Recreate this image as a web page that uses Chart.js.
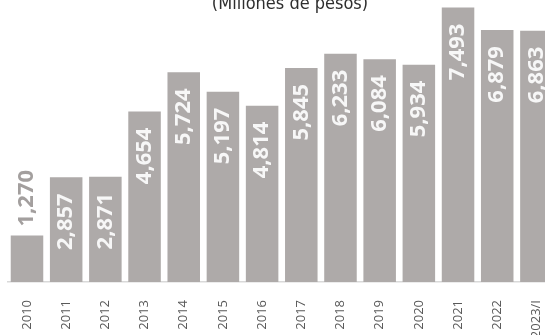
<!DOCTYPE html>
<html>
<head>
<meta charset="utf-8">
<script src="https://cdn.jsdelivr.net/npm/chart.js@4"></script>
<style>
  html, body { margin: 0; padding: 0; background: #fff; overflow: hidden; }
  #wrap { width: 545px; height: 335px; overflow: hidden; position: relative; }
  canvas { display: block; position: absolute; left: 0; top: 0; }
</style>
</head>
<body>
<!-- canvas is a bit wider than the page so the last column runs off the edge -->
<div id="wrap"><canvas id="myChart" width="556" height="335"></canvas></div>
<script>
// Annual amounts, millions of pesos
const years = ['2010', '2011', '2012', '2013', '2014', '2015', '2016',
               '2017', '2018', '2019', '2020', '2021', '2022', '2023/I'];
const amounts = [1270, 2857, 2871, 4654, 5724, 5197, 4814,
                 5845, 6233, 6084, 5934, 7493, 6879, 6863];
const subtitle = '(Millones de pesos)';

const barColor = '#aeaaa9';

// Subtitle, sits at the very top of the canvas
const subtitlePlugin = {
    id: 'subtitleText',
    afterDraw(chart) {
        const ctx = chart.ctx;
        ctx.save();
        ctx.font = '18px "DejaVu Sans Condensed", "DejaVu Sans"';
        ctx.fillStyle = '#2e2e2e';
        ctx.textAlign = 'center';
        ctx.textBaseline = 'alphabetic';
        ctx.fillText(subtitle, 290, 9);
        ctx.restore();
    }
};

// Vertical value labels: inside the bar top, or above it when the bar is too short
const valueLabels = {
    id: 'valueLabels',
    afterDatasetsDraw(chart) {
        const ctx = chart.ctx;
        const meta = chart.getDatasetMeta(0);
        ctx.save();
        ctx.font = 'bold 22px "Open Sans"';
        ctx.textBaseline = 'middle';
        meta.data.forEach(function (bar, i) {
            const text = amounts[i].toLocaleString('en-US');
            const w = ctx.measureText(text).width;
            const h = bar.base - bar.y;
            ctx.save();
            ctx.translate(bar.x, bar.y);
            ctx.rotate(-Math.PI / 2);
            if (h > w + 24) {
                ctx.fillStyle = '#f7f7f7';
                ctx.textAlign = 'right';
                ctx.fillText(text, -16, 0);
            } else {
                ctx.fillStyle = '#a39f9e';
                ctx.textAlign = 'left';
                ctx.fillText(text, 9, 0);
            }
            ctx.restore();
        });
        ctx.restore();
    }
};

const ctx = document.getElementById('myChart').getContext('2d');
new Chart(ctx, {
    type: 'bar',
    data: {
        labels: years,
        datasets: [{
            data: amounts,
            backgroundColor: barColor,
            borderWidth: 0,
            categoryPercentage: 1,
            barPercentage: 0.83
        }]
    },
    options: {
        responsive: false,
        animation: false,
        layout: { padding: { left: 7.4, right: 0, top: 0, bottom: 0 } },
        plugins: {
            legend: { display: false },
            tooltip: { enabled: false }
        },
        scales: {
            x: {
                grid: { display: false },
                border: { display: true, color: '#d9d9d9', width: 1.5 },
                ticks: {
                    autoSkip: false,
                    minRotation: 90,
                    maxRotation: 90,
                    padding: 10,
                    color: '#595959',
                    font: { family: '"Open Sans"', size: 13 }
                },
                afterFit(scale) {
                    scale.height = 53;
                    // no extra side room for the rotated end labels
                    scale.paddingLeft = 0;
                    scale.paddingRight = 0;
                }
            },
            y: {
                display: false,
                min: 0,
                max: 7700
            }
        }
    },
    plugins: [subtitlePlugin, valueLabels]
});
</script>
</body>
</html>
